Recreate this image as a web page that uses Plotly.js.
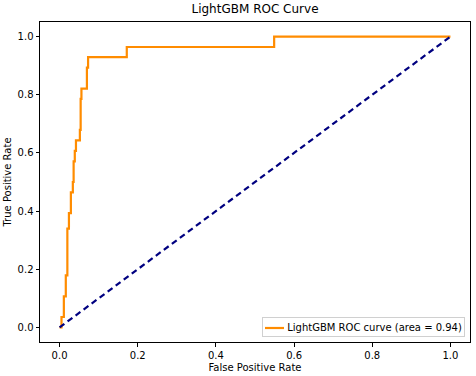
<!DOCTYPE html>
<html>
<head>
<meta charset="utf-8">
<script src="https://cdn.plot.ly/plotly-3.0.1.min.js"></script>
<style>html,body{margin:0;padding:0;background:#fff}#chart{width:476px;height:376px}</style>
</head>
<body>
<div id="chart"></div>
<script>
// ROC curve corner points
const fpr = [0, 0.005, 0.011, 0.016, 0.020, 0.024, 0.029, 0.034, 0.036, 0.039, 0.042, 0.052, 0.054, 0.056, 0.070, 0.073, 0.172, 0.549, 1.0];
const tpr = [0, 0.036, 0.107, 0.179, 0.340, 0.393, 0.464, 0.500, 0.571, 0.607, 0.643, 0.679, 0.786, 0.821, 0.893, 0.929, 0.964, 1.0, 1.0];
const diagX = [0, 1];
const diagY = [0, 1];
const tickVals = [0, 0.2, 0.4, 0.6, 0.8, 1.0];
const tickText = ["0.0", "0.2", "0.4", "0.6", "0.8", "1.0"];
const aucLabel = "LightGBM ROC curve (area = 0.94)";

const font = {family: "DejaVu Sans", size: 10, color: "#000"};
const traces = [
  {x: fpr, y: tpr, type: "scatter", mode: "lines", name: aucLabel, showlegend: false,
   line: {color: "darkorange", width: 2.2, shape: "hv"}},
  {x: diagX, y: diagY, type: "scatter", mode: "lines", showlegend: false,
   line: {color: "navy", width: 2.2, dash: "6px,4px"}}
];
const axisBase = {
  range: [-0.05, 1.05], showgrid: false, zeroline: false,
  showline: true, mirror: true, linecolor: "#000", linewidth: 1,
  ticks: "outside", ticklen: 3.5, tickwidth: 1, tickcolor: "#000",
  tickvals: tickVals, ticktext: tickText, tickfont: font, automargin: false
};
const layout = {
  width: 476, height: 376,
  margin: {l: 40, r: 6, t: 22, b: 34},
  paper_bgcolor: "#fff", plot_bgcolor: "#fff",
  font: font,
  title: {text: "LightGBM ROC Curve", font: {family: "DejaVu Sans", size: 12, color: "#000"},
          x: 0.5, xref: "paper", y: 1, yref: "container", yanchor: "top", pad: {t: 5}},
  xaxis: Object.assign({}, axisBase, {title: {text: "False Positive Rate", font: font, standoff: 4}}),
  yaxis: Object.assign({}, axisBase, {title: {text: "True Positive Rate", font: font, standoff: 4}}),
  showlegend: false,
  // legend box drawn as a bordered annotation plus a sample line
  annotations: [{
    text: aucLabel, xref: "paper", yref: "paper", x: 0.988, y: 0.0156,
    xanchor: "right", yanchor: "bottom", showarrow: false,
    width: 197, height: 14, align: "right", borderpad: 2,
    bordercolor: "#d0d0d0", borderwidth: 1, bgcolor: "rgba(0,0,0,0)",
    font: font
  }],
  shapes: [{
    type: "line", xref: "paper", yref: "paper", layer: "above",
    x0: 0.5233, x1: 0.5674, y0: 0.04375, y1: 0.04375,
    line: {color: "darkorange", width: 2.2}
  }]
};
Plotly.newPlot("chart", traces, layout, {staticPlot: true, displayModeBar: false});
</script>
</body>
</html>
